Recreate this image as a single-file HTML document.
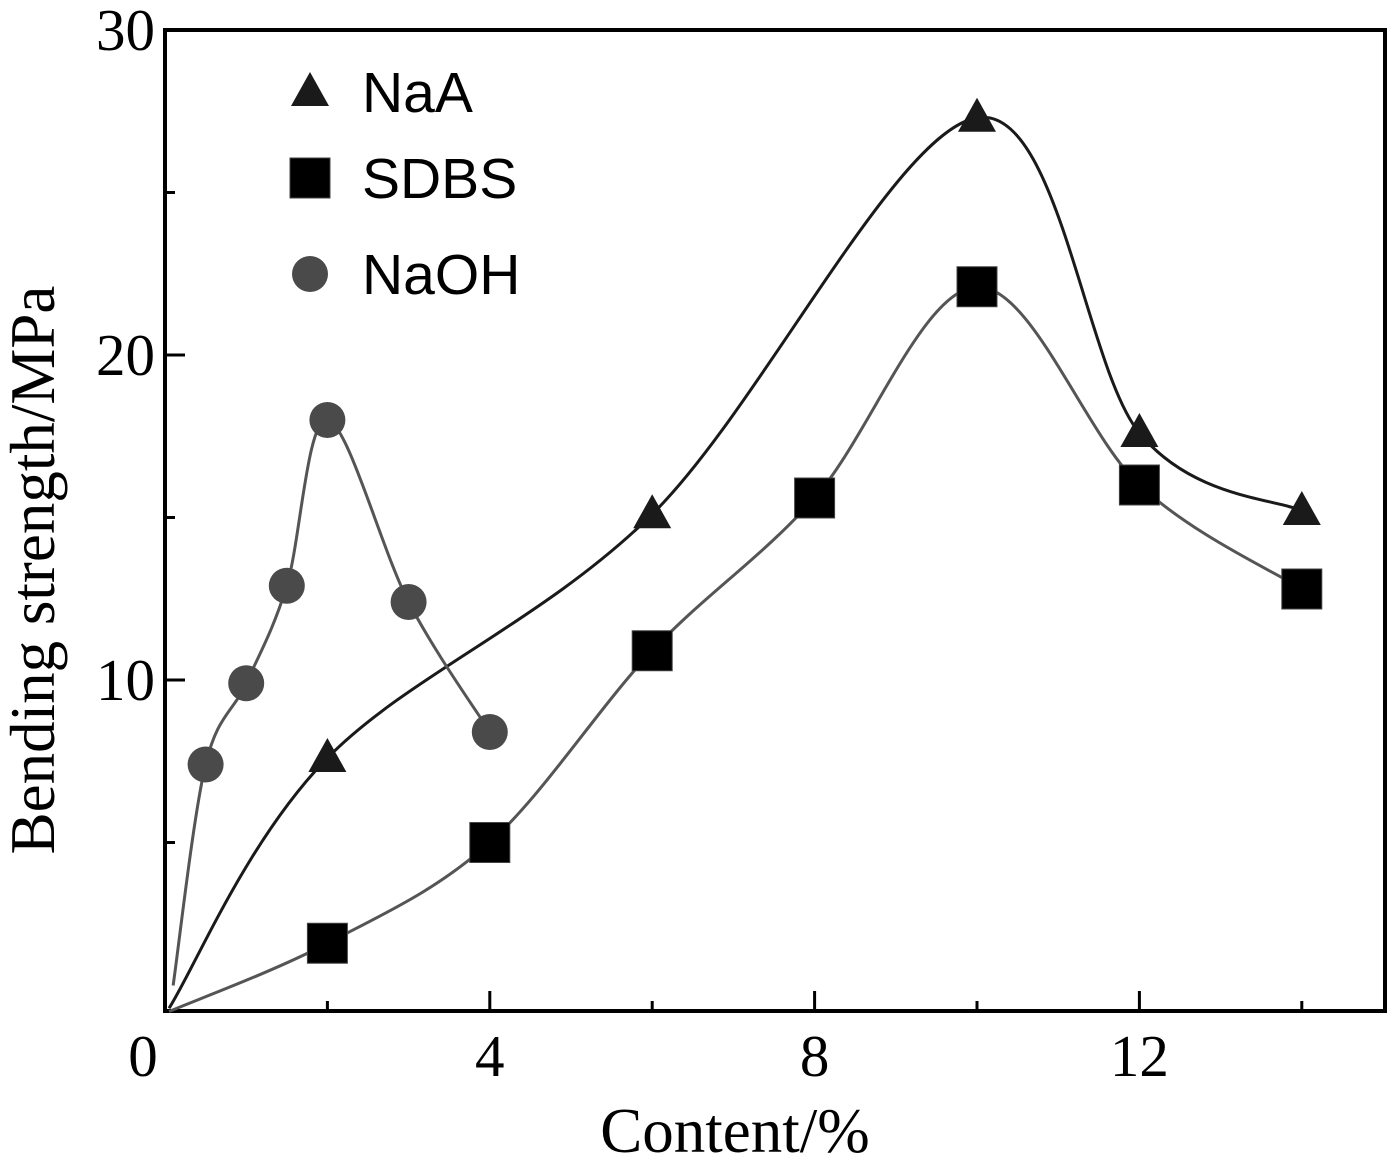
<!DOCTYPE html>
<html><head><meta charset="utf-8"><style>
html,body{margin:0;padding:0;background:#fff;}
svg{display:block;}
</style></head><body>
<svg id="chart" width="1387" height="1172" viewBox="0 0 1387 1172" xmlns="http://www.w3.org/2000/svg">
<g id="axes"></g>
<g id="series"></g>
<g id="legend"></g>
<text x="735" y="1152" font-family="Liberation Serif, serif" font-size="63" text-anchor="middle">Content/%</text>
<text transform="translate(54,570) rotate(-90)" font-family="Liberation Serif, serif" font-size="63" text-anchor="middle">Bending strength/MPa</text>
</svg>
<script>
const xTicks = [0, 4, 8, 12];
const yTicks = [10, 20, 30];
const naaX = [0.05, 2, 6, 10, 12, 14];
const naaY = [-0.1, 7.6, 15.1, 27.3, 17.6, 15.2];
const sdbsX = [0.05, 2, 4, 6, 8, 10, 12, 14];
const sdbsY = [-0.2, 1.9, 5.0, 10.9, 15.6, 22.1, 16.0, 12.8];
const naohX = [0.1, 0.5, 1, 1.5, 2, 3, 4];
const naohY = [0.6, 7.4, 9.9, 12.9, 18.0, 12.4, 8.4];
const NS = 'http://www.w3.org/2000/svg';
const L = 165, R = 1385, T = 30, B = 1011;
function sx(v){ return 165 + v * 81.2; }
function sy(v){ return 1005 - v * 32.5; }
function mk(tag, attrs, parent){
  const e = document.createElementNS(NS, tag);
  for (const k in attrs) e.setAttribute(k, attrs[k]);
  parent.appendChild(e); return e;
}
const axes = document.getElementById('axes');
const fr = mk('rect', {x:L, y:T, width:R-L, height:B-T, fill:'none', stroke:'#000', 'stroke-width':4}, axes);


for (let v = 2; v <= 14; v += 2) {
  const major = v % 4 === 0;
  const t = mk('line', {x1:sx(v), x2:sx(v), y1:B, y2:B-(major?20:10), stroke:'#000', 'stroke-width':3}, axes);
  
  
}
xTicks.forEach(v => {
  const t = mk('text', {x:sx(v) - (v===0?22:0), y:1076, 'font-family':'Liberation Serif, serif', 'font-size':59, 'text-anchor':'middle'}, axes);
  t.textContent = v;
  
  
});
for (let v = 5; v < 30; v += 5) {
  const major = v % 10 === 0;
  const t = mk('line', {x1:L, x2:L+(major?20:10), y1:sy(v), y2:sy(v), stroke:'#000', 'stroke-width':3}, axes);
  
  
}
yTicks.forEach(v => {
  const t = mk('text', {x:155, y:sy(v)+20, 'font-family':'Liberation Serif, serif', 'font-size':59, 'text-anchor':'end'}, axes);
  t.textContent = v;
  
  
});
function curve(xs, ys){
  const p = xs.map((x,i)=>[sx(x), sy(ys[i])]);
  let d = 'M' + p[0][0] + ' ' + p[0][1];
  for (let i = 0; i < p.length-1; i++) {
    const p0 = p[Math.max(0,i-1)], p1 = p[i], p2 = p[i+1], p3 = p[Math.min(p.length-1,i+2)];
    const c1 = [p1[0]+(p2[0]-p0[0])/6, p1[1]+(p2[1]-p0[1])/6];
    const c2 = [p2[0]-(p3[0]-p1[0])/6, p2[1]-(p3[1]-p1[1])/6];
    d += ' C' + c1[0] + ' ' + c1[1] + ' ' + c2[0] + ' ' + c2[1] + ' ' + p2[0] + ' ' + p2[1];
  }
  return d;
}
const series = document.getElementById('series');
const l1 = mk('path', {d:curve(sdbsX, sdbsY), fill:'none', stroke:'#555', 'stroke-width':3}, series);


const l2 = mk('path', {d:curve(naaX, naaY), fill:'none', stroke:'#1a1a1a', 'stroke-width':3}, series);


const l3 = mk('path', {d:curve(naohX, naohY), fill:'none', stroke:'#555', 'stroke-width':3}, series);


function tri(cx, cy, parent){
  return mk('polygon', {points:`${cx},${cy-20} ${cx-19},${cy+14} ${cx+19},${cy+14}`, fill:'#1a1a1a'}, parent);
}
function sq(cx, cy, parent){
  return mk('rect', {x:cx-20, y:cy-20, width:40, height:40, fill:'#000', stroke:'#444', 'stroke-width':1}, parent);
}
function circ(cx, cy, parent){
  return mk('circle', {cx:cx, cy:cy, r:18, fill:'#4a4a4a'}, parent);
}
for (let i = 1; i < naaX.length; i++) {
  const m = tri(sx(naaX[i]), sy(naaY[i]), series);
  
  
}
for (let i = 1; i < sdbsX.length; i++) {
  const m = sq(sx(sdbsX[i]), sy(sdbsY[i]), series);
  
  
}
for (let i = 1; i < naohX.length; i++) {
  const m = circ(sx(naohX[i]), sy(naohY[i]), series);
  
  
}
const legend = document.getElementById('legend');
const names = ['NaA', 'SDBS', 'NaOH'];
const ly = [92, 178, 274];
[tri, sq, circ].forEach((f, i) => {
  const m = f(310, ly[i], legend);
  
  
  const t = mk('text', {x:362, y:ly[i]+20, 'font-family':'Liberation Sans, sans-serif', 'font-size':57}, legend);
  t.textContent = names[i];
  
  
});
</script>
</body></html>
